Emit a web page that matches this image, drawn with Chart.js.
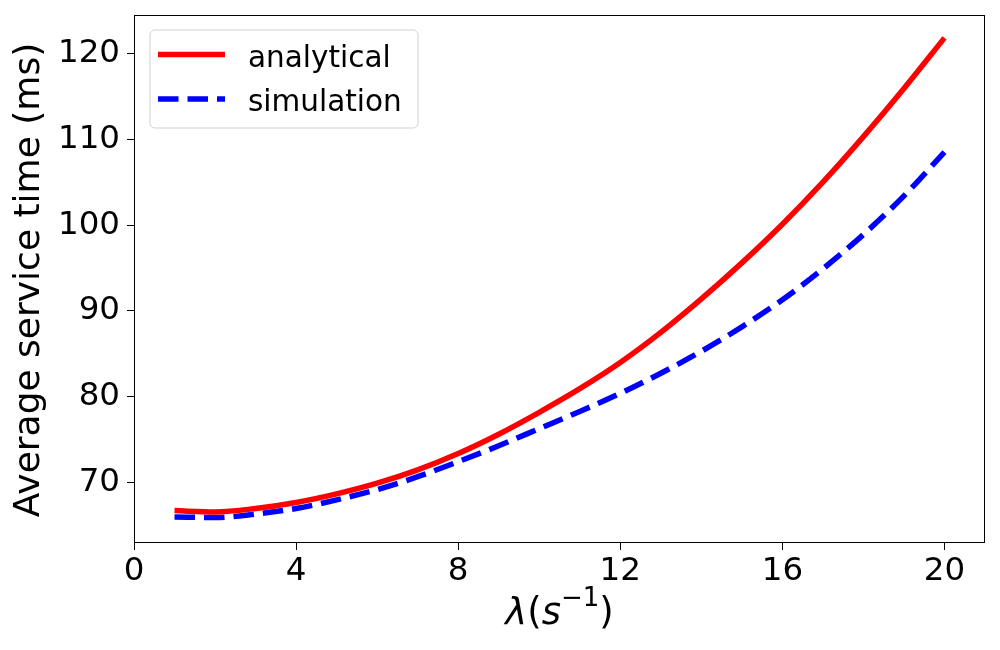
<!DOCTYPE html>
<html><head><meta charset="utf-8">
<script src="https://cdn.jsdelivr.net/npm/chart.js@4.4.0/dist/chart.umd.min.js"></script>
<style>html,body{margin:0;padding:0;background:#fff}#wrap{width:1000px;height:650px}</style>
</head><body><div id="wrap"><canvas id="c" width="1000" height="650"></canvas></div>
<script>
const lambdas = [1,2,3,4,5,6,7,8,9,10,11,12,13,14,15,16,17,18,19,20];
const analytical = [66.75,66.6,67.0,67.7,68.7,69.95,71.5,73.4,75.65,78.2,80.95,84.0,87.5,91.4,95.6,100.1,105.0,110.3,115.9,121.8];
const simulation = [66.0,65.95,66.35,67.0,68.0,69.2,70.7,72.45,74.3,76.3,78.3,80.4,82.75,85.3,88.15,91.3,94.9,98.9,103.4,108.5];
const seriesLabels = ['analytical','simulation'];
const xTicks = [0,4,8,12,16,20];
const yTicks = [70,80,90,100,110,120];
const yTitle = 'Average service time (ms)';

const FONT = '"DejaVu Sans", "Liberation Sans", sans-serif';

const framePlugin = {
  id: 'frame',
  afterDatasetsDraw(chart) {
    const {ctx, chartArea: a} = chart;
    ctx.save();
    ctx.strokeStyle = '#000';
    ctx.lineWidth = 1;
    ctx.strokeRect(Math.round(a.left) + 0.5, Math.round(a.top) + 0.5, Math.round(a.right - a.left) - 1, Math.round(a.bottom - a.top) - 1);
    ctx.restore();
  },
  afterDraw(chart) {
    const {ctx, chartArea: a} = chart;
    ctx.save();
    // legend
    const bx = 150, by = 30, bw = 268, bh = 98, r = 5;
    ctx.beginPath();
    ctx.moveTo(bx + r, by);
    ctx.arcTo(bx + bw, by, bx + bw, by + bh, r);
    ctx.arcTo(bx + bw, by + bh, bx, by + bh, r);
    ctx.arcTo(bx, by + bh, bx, by, r);
    ctx.arcTo(bx, by, bx + bw, by, r);
    ctx.closePath();
    ctx.fillStyle = 'rgba(255,255,255,0.8)';
    ctx.fill();
    ctx.strokeStyle = '#d0d0d0';
    ctx.lineWidth = 1;
    ctx.stroke();
    const rows = [{line: 54.5, base: 66.5}, {line: 99, base: 110.5}];
    chart.data.datasets.forEach((ds, i) => {
      const row = rows[i];
      ctx.beginPath();
      ctx.strokeStyle = ds.borderColor;
      ctx.lineWidth = ds.borderWidth;
      ctx.setLineDash(ds.borderDash || []);
      ctx.lineCap = 'butt';
      ctx.moveTo(158, row.line);
      ctx.lineTo(225, row.line);
      ctx.stroke();
      ctx.setLineDash([]);
      ctx.fillStyle = '#000';
      ctx.font = '29.5px ' + FONT;
      ctx.textBaseline = 'alphabetic';
      ctx.textAlign = 'left';
      ctx.fillText(ds.label, 248, row.base);
    });
    // y title
    ctx.save();
    ctx.translate(30, (a.top + a.bottom) / 2 + 1);
    ctx.rotate(-Math.PI / 2);
    ctx.font = '36px ' + FONT;
    ctx.textAlign = 'center';
    ctx.textBaseline = 'middle';
    ctx.fillStyle = '#000';
    ctx.fillText(yTitle, 0, 0);
    ctx.restore();
    // x title: λ(s^{-1})
    const parts = [
      {t: 'λ', f: 'italic 37px ' + FONT, dy: 0},
      {t: '(', f: '37px ' + FONT, dy: 0},
      {t: 's', f: 'italic 37px ' + FONT, dy: 0},
      {t: '−1', f: '26px ' + FONT, dy: -18},
      {t: ')', f: '37px ' + FONT, dy: 0}
    ];
    let total = 0;
    parts.forEach(p => { ctx.font = p.f; p.w = ctx.measureText(p.t).width; total += p.w; });
    let x = (a.left + a.right) / 2 - total / 2;
    const base = 624;
    ctx.textAlign = 'left';
    ctx.textBaseline = 'alphabetic';
    ctx.fillStyle = '#000';
    parts.forEach(p => { ctx.font = p.f; ctx.fillText(p.t, x, base + p.dy); x += p.w; });
    ctx.restore();
  }
};

new Chart(document.getElementById('c'), {
  type: 'line',
  data: {
    datasets: [
      {
        label: seriesLabels[0],
        data: lambdas.map((l, i) => ({x: l, y: analytical[i]})),
        borderColor: '#ff0000',
        borderWidth: 5.5,
        pointRadius: 0,
        fill: false,
        cubicInterpolationMode: 'monotone'
      },
      {
        label: seriesLabels[1],
        data: lambdas.map((l, i) => ({x: l, y: simulation[i]})),
        borderColor: '#0000ff',
        borderWidth: 5.5,
        borderDash: [20.5, 9],
        pointRadius: 0,
        fill: false,
        cubicInterpolationMode: 'monotone'
      }
    ]
  },
  options: {
    responsive: false,
    devicePixelRatio: 1,
    animation: false,
    layout: {padding: {top: 15, right: 15, left: 0, bottom: 0}},
    plugins: {legend: {display: false}, tooltip: {enabled: false}},
    scales: {
      x: {
        type: 'linear', min: 0, max: 21,
        afterBuildTicks: s => { s.ticks = xTicks.map(v => ({value: v})); },
        afterFit: s => { s.height = 107; s.paddingLeft = 0; s.paddingRight = 0; },
        grid: {drawOnChartArea: false, drawTicks: true, tickLength: 7, tickColor: '#000', tickWidth: 1},
        border: {display: false},
        ticks: {color: '#000', font: {family: FONT, size: 32.5}, padding: 2, maxRotation: 0, autoSkip: false}
      },
      y: {
        type: 'linear', min: 62.98, max: 124.46,
        afterBuildTicks: s => { s.ticks = yTicks.map(v => ({value: v})); },
        afterFit: s => { s.width = 134; s.paddingTop = 0; s.paddingBottom = 0; },
        grid: {drawOnChartArea: false, drawTicks: true, tickLength: 7, tickColor: '#000', tickWidth: 1},
        border: {display: false},
        ticks: {color: '#000', font: {family: FONT, size: 32.5}, padding: 7, autoSkip: false}
      }
    }
  },
  plugins: [framePlugin]
});
</script>
</body></html>
